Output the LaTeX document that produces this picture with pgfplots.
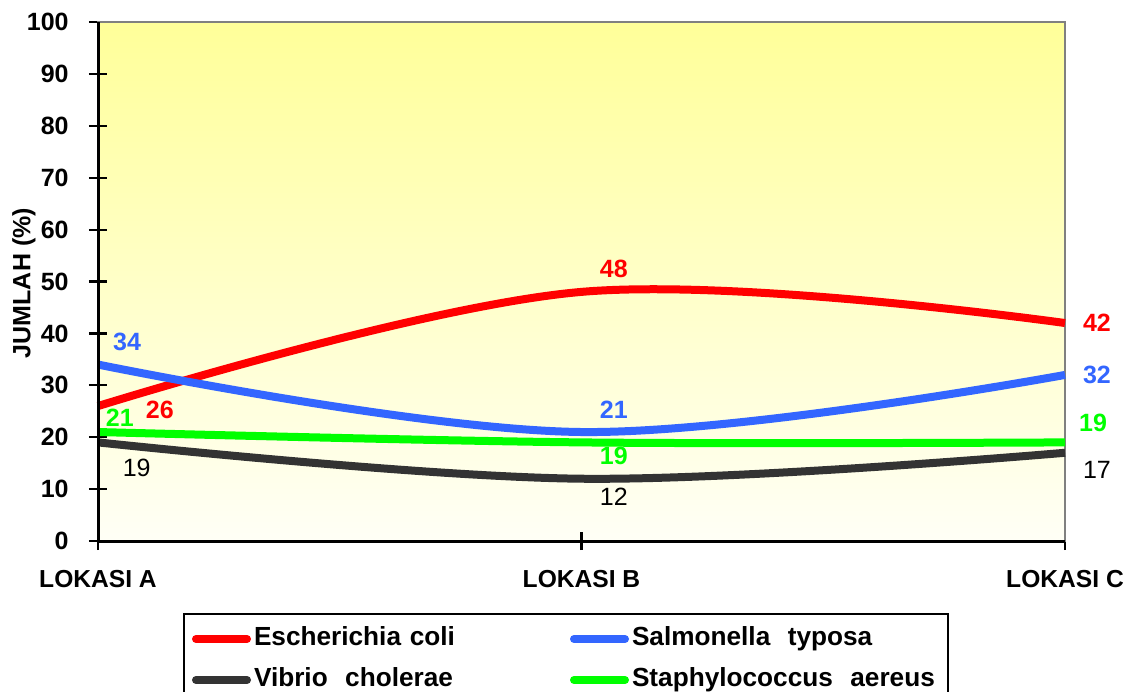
\documentclass[border=0pt]{standalone}
\usepackage{pgfplots}
\pgfplotsset{compat=1.18}
\usepackage{fontspec}
\setmainfont{Liberation Sans}
\definecolor{bgtop}{RGB}{255,255,153}
\definecolor{bgbot}{RGB}{255,255,246}
\definecolor{cred}{RGB}{255,0,0}
\definecolor{cblue}{RGB}{51,102,255}
\definecolor{cblack}{RGB}{51,51,51}
\definecolor{cgreen}{RGB}{0,255,0}
\newcommand{\tf}{\fontsize{12.5}{15}\selectfont\bfseries}
\newcommand{\lf}{\fontsize{13.1}{15}\selectfont\bfseries}
\newcommand{\xf}{\fontsize{12.3}{14}\selectfont\bfseries}
\newcommand{\nf}{\fontsize{12.5}{15}\selectfont}
\begin{document}
\begin{tikzpicture}
\begin{axis}[
  scale only axis, width=483.5pt, height=259.5pt,
  at={(0,0)}, anchor=south west,
  xmin=0, xmax=2, ymin=0, ymax=100,
  xtick={0,1,2}, xticklabels={LOKASI A, LOKASI B, LOKASI C},
  ytick={0,10,...,100},
  xtick pos=bottom, ytick pos=left,
  tick align=center, major tick length=9pt,
  tick style={black, line width=1.1pt},
  axis line style={draw=black!50, line width=1.1pt},
  axis background/.style={top color=bgtop, bottom color=bgbot},
  /pgf/number format/assume math mode=true,
  yticklabel style={font=\tf, anchor=east, inner sep=0pt, xshift=-10pt},
  xticklabel style={font=\xf, anchor=north, inner sep=0pt, yshift=-10pt},
  every axis y label/.style={at={(rel axis cs:-0.0765,0.497)}, rotate=90, anchor=center, font=\tf},
  ylabel={JUMLAH (\%)},
  clip=false,
  legend columns=2,
  legend style={at={(rel axis cs:0.0879,-0.1387)}, anchor=north west,
    draw=black, line width=1pt, fill=white, inner xsep=4pt, inner ysep=6.5pt,
    row sep=8.5pt,
    nodes={font=\lf, inner sep=0pt, text height=9.5pt, text depth=2.5pt},
    /tikz/every odd column/.style={column sep=1.5pt},
    /tikz/every even column/.style={column sep=4pt},
    cells={anchor=west, text width=154pt, align=left}},
  legend image code/.code={
    \draw[#1, line cap=round, line width=4pt] (2pt,0pt) -- (27.5pt,0pt);
  },
]
\addplot[cred, line width=4pt, smooth, tension=0.6] coordinates {(0,26) (1,48) (2,42)};
\addlegendentry{Escherichia coli}
\addplot[cblue, line width=4pt, smooth, tension=0.6] coordinates {(0,34) (1,21) (2,32)};
\addlegendentry{Salmonella\ \ typosa}
\addplot[cblack, line width=4pt, smooth, tension=0.6] coordinates {(0,19) (1,12) (2,17)};
\addlegendentry{Vibrio\ \ cholerae}
\addplot[cgreen, line width=4pt, smooth, tension=0.6] coordinates {(0,21) (1,19) (2,19)};
\addlegendentry{Staphylococcus\ \ aereus}
\draw[black, line width=1.5pt] (rel axis cs:0,1) -- (rel axis cs:0,0) -- (rel axis cs:1,0);
\node[font=\tf, text=cred] at (axis cs:0.128,25.2) {26};
\node[font=\tf, text=cblue] at (axis cs:0.06,38.3) {34};
\node[font=\tf, text=cgreen] at (axis cs:0.045,23.7) {21};
\node[font=\nf, text=black] at (axis cs:0.08,14.1) {19};
\node[font=\tf, text=cred] at (axis cs:1.067,52.4) {48};
\node[font=\tf, text=cblue] at (axis cs:1.067,25.2) {21};
\node[font=\tf, text=cgreen] at (axis cs:1.067,16.4) {19};
\node[font=\nf, text=black] at (axis cs:1.067,8.5) {12};
\node[font=\tf, text=cred] at (axis cs:2.066,42.0) {42};
\node[font=\tf, text=cblue] at (axis cs:2.066,32.0) {32};
\node[font=\tf, text=cgreen] at (axis cs:2.058,22.7) {19};
\node[font=\nf, text=black] at (axis cs:2.066,13.7) {17};
\end{axis}
\pgfresetboundingbox
\path (-49pt,-75pt) rectangle (518pt,270.5pt);
\end{tikzpicture}
\end{document}
